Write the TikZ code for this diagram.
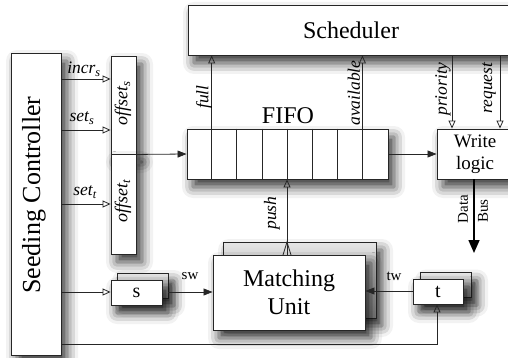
\documentclass[tikz,border=0pt]{standalone}
\usepackage{fontspec}
\setmainfont{Liberation Serif}
\usetikzlibrary{arrows.meta,shadows.blur,calc}
\begin{document}
\begin{tikzpicture}[x=1pt,y=-1pt,
  shad/.style={blur shadow={shadow xshift=6pt,shadow yshift=-8pt,shadow blur radius=11pt,shadow opacity=80}},
  box/.style={draw=black!85,line width=0.9pt,fill=white,inner sep=0pt,shad},
  backbox/.style={draw=black!85,line width=0.9pt,inner sep=0pt,top color=black!10,bottom color=black!45,shad},
  conn/.style={line width=0.8pt,black!85},
  oarr/.style={conn,-{Triangle[open,length=8pt,width=7pt,line width=0.8pt]}},
  farr/.style={conn,-{Triangle[length=9pt,width=7pt]}},
  lbl/.style={font=\fontsize{17.5}{19}\selectfont\itshape,inner sep=0pt},
  small/.style={font=\fontsize{15}{17}\selectfont,inner sep=0pt}]
\useasboundingbox (0,0) rectangle (508,358);
\begin{scope}
\clip (0,0) rectangle (508,358);
% boxes
\node[box,minimum width=50pt,minimum height=302pt] (ctrl) at (36,204) {};
\node[rotate=90,font=\fontsize{26}{28}\selectfont] at (34,195) {Seeding Controller};
\node[box,minimum width=326pt,minimum height=50pt,
  font=\fontsize{24}{26}\selectfont] (sched) at (351,30) {Scheduler};
\node[box,minimum width=25pt,minimum height=98pt] (offS) at (123.5,105) {};
\node[box,minimum width=25pt,minimum height=100pt] (offT) at (123.5,204) {};
\node[rotate=90,font=\fontsize{18}{20}\selectfont\itshape] at (123,103) {offset$_{\mathit{s}}$};
\node[rotate=90,font=\fontsize{18}{20}\selectfont\itshape] at (123,201) {offset$_{\mathit{t}}$};
\node[box,minimum width=201pt,minimum height=50pt] (fifo) at (287.5,154) {};
\foreach \i in {1,...,7}{
  \coordinate (d\i) at ($(fifo.north west)+(25.125*\i,0)$);
  \draw[conn] (d\i) -- ++(0,50);
}
\node[font=\fontsize{24}{26}\selectfont,inner sep=0pt] (fifolbl) at (288,116) {FIFO};
\node[box,minimum width=76pt,minimum height=50pt,align=center,
  font=\fontsize{19}{22}\selectfont] (wl) at (475,154) {Write\\logic};
% matching unit
\node[backbox,minimum width=153pt,minimum height=76pt] (mub) at (299.5,280) {};
\node[box,minimum width=152pt,minimum height=75pt,align=center,
  font=\fontsize{24}{28}\selectfont] (mu) at (289,292.5) {Matching\\Unit};
% s and t
\node[backbox,minimum width=51pt,minimum height=25pt] (sb) at (142.5,285.5) {};
\node[box,minimum width=51pt,minimum height=25pt,font=\fontsize{20}{22}\selectfont] (s) at (136.5,292.5) {s};
\node[backbox,minimum width=51pt,minimum height=25pt] (tb) at (445.5,285) {};
\node[box,minimum width=50pt,minimum height=25pt,font=\fontsize{20}{22}\selectfont] (t) at (438,291.5) {t};
% controller to offsets
\draw[oarr] (ctrl.east |- 0,79) -- (offS.west |- 0,79);
\draw[oarr] (ctrl.east |- 0,130) -- (offS.west |- 0,130);
\draw[oarr] (ctrl.east |- 0,204) -- (offT.west |- 0,204);
\node[lbl] at (84,69) {incr$_{\mathit{s}}$};
\node[lbl] at (82,118) {set$_{\mathit{s}}$};
\node[lbl] at (85,192) {set$_{\mathit{t}}$};
% offset to fifo
\draw[farr] (offS.south east) -- (fifo.west);
% fifo to scheduler
\draw[oarr] (d1) -- (d1 |- sched.south);
\draw[oarr] (d7) -- (d7 |- sched.south);
\node[lbl,rotate=90] at (204,97) {full};
\node[lbl,rotate=90] at (354,93) {available};
% scheduler to write logic
\draw[oarr] (sched.south -| 452,0) -- (wl.north -| 452,0);
\draw[oarr] (sched.south -| 500,0) -- (wl.north -| 500,0);
\node[lbl,rotate=90] at (443,89) {priority};
\node[lbl,rotate=90] at (489,88) {request};
% fifo to write logic
\draw[farr] (fifo.east) -- (wl.west);
% data bus
\coordinate (busend) at (474,253);
\draw[line width=1.6pt,-{Triangle[length=13pt,width=11pt]}] (wl.south -| busend) -- (busend);
\node[small,rotate=90] at (463,209) {Data};
\node[small,rotate=90] at (483,211) {Bus};
% push
\coordinate (pushb) at (287,242);
\draw[oarr] (mu.north -| pushb) -- (pushb |- fifo.south);
\draw[conn] ($(pushb)+(-4,13)$) -- (pushb) -- ($(pushb)+(4,13)$);
\node[lbl,rotate=90] at (272,213) {push};
% controller to s
\draw[oarr] (ctrl.east |- 0,292) -- (s.west |- 0,292);
\draw[farr] (sb.east |- 0,292) -- (mu.west |- 0,292);
\node[small] at (190,276) {sw};
% t to matching unit
\draw[farr] (t.west |- 0,291) -- (mu.east |- 0,291);
\node[small] at (394,276) {tw};
% controller to t
\coordinate (bot) at (437,344);
\draw[oarr] (ctrl.east |- bot) -- (bot) -- (bot |- t.south);
\end{scope}
\end{tikzpicture}
\end{document}
